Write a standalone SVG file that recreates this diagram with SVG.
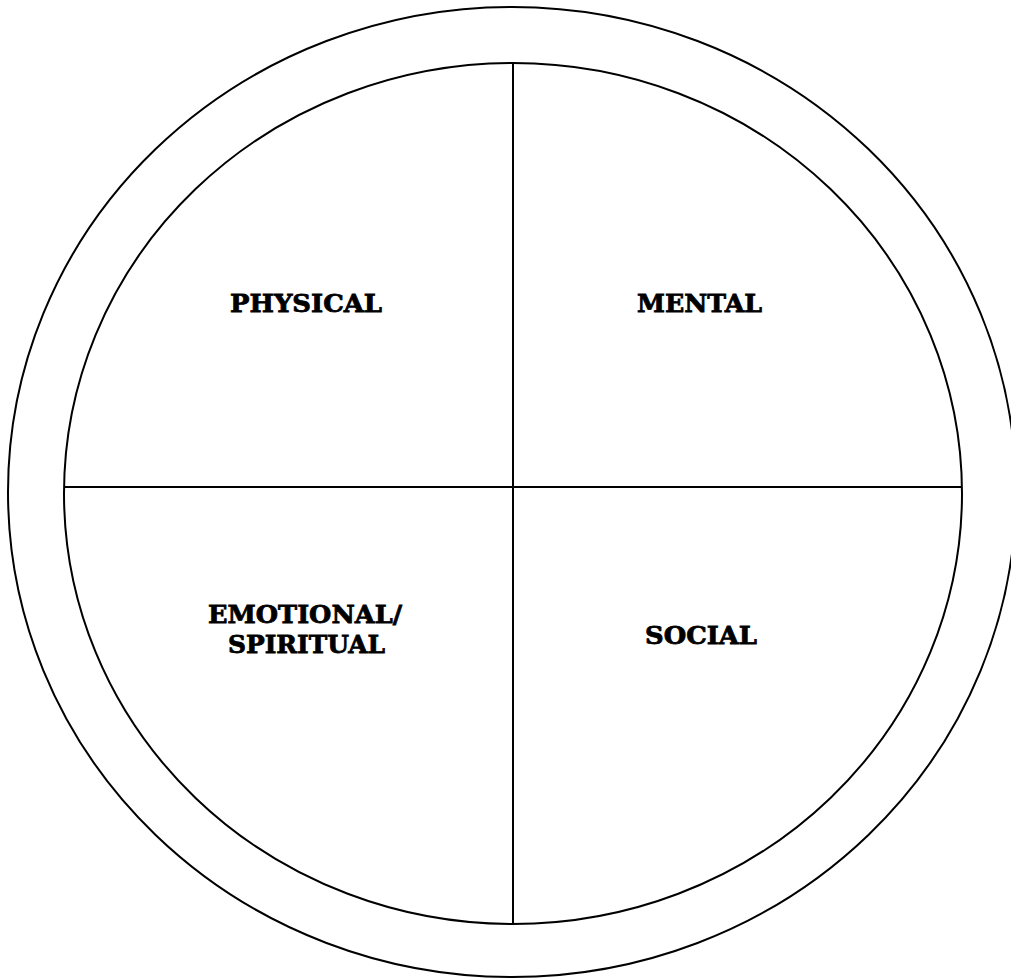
<svg xmlns="http://www.w3.org/2000/svg" width="1011" height="979" viewBox="0 0 1011 979">
<style>
.ln{fill:none;stroke:#000;stroke-width:2}
.lb{font-family:"DejaVu Serif","Liberation Serif",serif;font-weight:bold;font-size:25px;fill:#000;stroke:#000;stroke-width:0.8;text-anchor:middle}
</style>
<rect width="1011" height="979" fill="#fff"/>
<g id="outer"><ellipse class="ln" cx="512" cy="492" rx="504" ry="485"/></g>
<g id="inner"><ellipse class="ln" cx="513" cy="493.5" rx="449" ry="430.5"/></g>
<g id="connectors">
<line class="ln" x1="513" y1="63" x2="513" y2="924"/>
<line class="ln" x1="64" y1="487" x2="962" y2="487"/>
</g>
<g id="physical"><text class="lb" x="306" y="312" textLength="152" lengthAdjust="spacingAndGlyphs">PHYSICAL</text></g>
<g id="mental"><text class="lb" x="699.5" y="312" textLength="125" lengthAdjust="spacingAndGlyphs">MENTAL</text></g>
<g id="emotional"><text class="lb" x="305" y="623" textLength="194" lengthAdjust="spacingAndGlyphs">EMOTIONAL/</text><text class="lb" x="306.5" y="653" textLength="157" lengthAdjust="spacingAndGlyphs">SPIRITUAL</text></g>
<g id="social"><text class="lb" x="701" y="644" textLength="112" lengthAdjust="spacingAndGlyphs">SOCIAL</text></g>
</svg>
